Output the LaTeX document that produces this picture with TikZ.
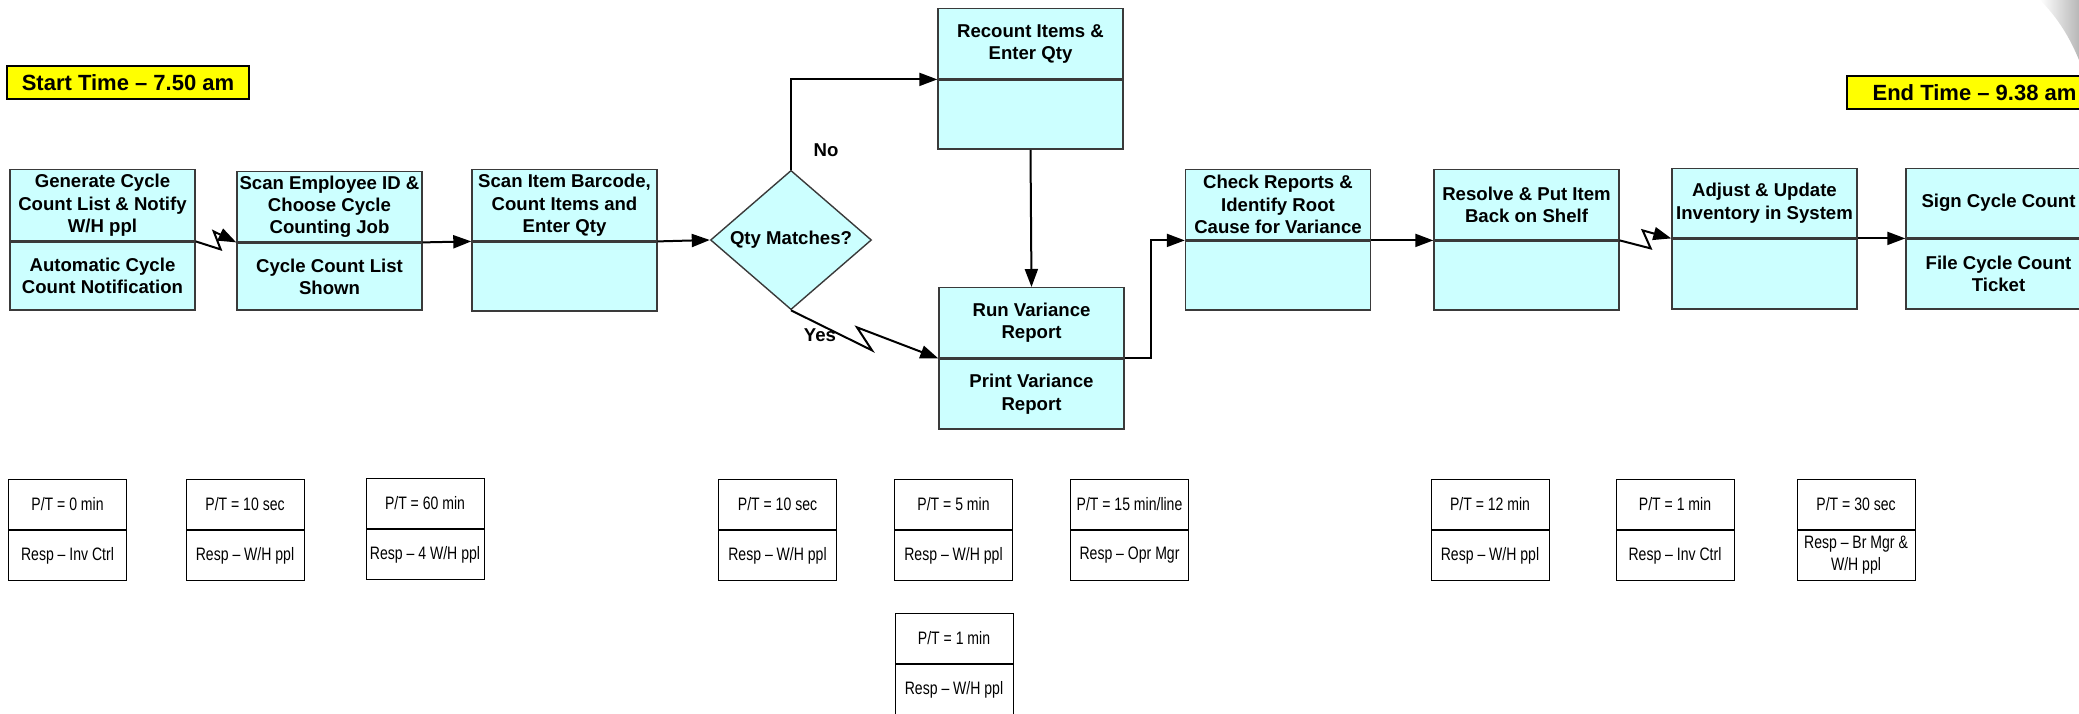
\documentclass[tikz,border=0pt]{standalone}
\usepackage{fontspec}
\setmainfont{Liberation Sans}
\newfontfamily\narrowsans[FakeStretch=0.78]{Liberation Sans}
\usetikzlibrary{arrows.meta,shapes.geometric}

\definecolor{procfill}{HTML}{CCFFFF}
\definecolor{boxedge}{HTML}{3A3A3A}
\definecolor{timefill}{HTML}{FFFF00}

\tikzset{
  half/.style={draw=boxedge, fill=procfill, line width=0.7pt, minimum width=92.5pt,
    inner sep=0pt, align=center, font=\bfseries\fontsize{9.3}{11.2}\selectfont},
  ptcell/.style={draw=black, fill=white, line width=0.5pt, minimum width=59pt,
    minimum height=25pt, inner sep=0pt, align=center,
    font=\narrowsans\fontsize{9}{11}\selectfont},
  timebox/.style={draw=black, fill=timefill, line width=1.3pt, minimum height=16.5pt,
    inner sep=0pt, font=\bfseries\fontsize{11}{13}\selectfont},
  decision/.style={diamond, draw=boxedge, fill=procfill, line width=0.7pt,
    minimum width=80.5pt, minimum height=60pt, inner sep=0pt,
    font=\bfseries\fontsize{9.3}{11.2}\selectfont},
  flow/.style={line width=1pt, -{Triangle[length=9pt,width=6.5pt]}},
  lbl/.style={font=\bfseries\fontsize{9.3}{11.2}\selectfont, inner sep=0pt}
}

% process step: name, x centre, top, divider, bottom, upper text, lower text
\newcommand\procbox[7]{%
  \node[half, anchor=north, minimum height={(#4-#3)*0.5pt}] (#1) at (#2,#3) {#6};
  \node[half, anchor=north, minimum height={(#5-#4)*0.5pt}] (#1-b) at (#1.south) {#7};
}
% time / responsibility card: name, x centre, top, upper text, lower text
\newcommand\ptbox[5]{%
  \node[ptcell, anchor=north] (#1) at (#2,#3) {#4};
  \node[ptcell, anchor=north] (#1-b) at (#1.south) {#5};
}

\begin{document}
\begin{tikzpicture}[x=0.5pt, y=-0.5pt]
  \useasboundingbox (0,0) rectangle (2079,713);
  \clip (0,0) rectangle (2079,713);

  % page corner shadow
  \shade[left color=white, right color=black!28]
    (2040,0) .. controls (2058,18) and (2070,38) .. (2079,60) -- (2079,0) -- cycle;

  % start / end times
  \node[timebox, minimum width=121pt] (start) at (128,82.5) {Start Time – 7.50 am};
  \node[timebox, minimum width=127.5pt] (end) at (1974.5,92.5) {End Time – 9.38 am};

  % process steps
  \procbox{gen}{102.5}{169}{240}{308}{Generate Cycle\\Count List \& Notify\\W/H ppl}{Automatic Cycle\\Count Notification}
  \procbox{scan}{329.5}{171}{241}{308}{Scan Employee ID \&\\Choose Cycle\\Counting Job}{Cycle Count List\\Shown}
  \procbox{item}{564.5}{169}{240}{309}{Scan Item Barcode,\\Count Items and\\Enter Qty}{}
  \node[decision] (qty) at (791,240) {Qty Matches?};
  \procbox{recount}{1030.5}{8}{78}{147}{Recount Items \&\\Enter Qty}{}
  \procbox{runvar}{1031.5}{287}{357}{427}{Run Variance\\Report}{Print Variance\\Report}
  \procbox{check}{1278}{169}{239}{308}{Check Reports \&\\Identify Root\\Cause for Variance}{}
  \procbox{resolve}{1526.5}{169}{239}{308}{Resolve \& Put Item\\Back on Shelf}{}
  \procbox{adjust}{1764.5}{168}{237}{307}{Adjust \& Update\\Inventory in System}{}
  \procbox{sign}{1998.5}{168}{237}{307}{Sign Cycle Count}{File Cycle Count\\Ticket}

  % connectors
  \draw[flow] (gen.south east) -- ++(25,8) -- ++(-7,-18) -- (scan.south west);
  \draw[flow] (scan.south east) -- (item.south west);
  \draw[flow] (item.south east) -- (qty.west);
  \draw[flow] (qty.north) |- (recount.south west);
  \draw[flow] (qty.south) -- ++(81,40) -- ++(-15,-23) -- (runvar.south west);
  \draw[flow] (recount-b.south) -- (runvar.north);
  \draw[flow] (runvar.south east) -- ++(26,0) |- (check.south west);
  \draw[flow] (check.south east) -- (resolve.south west);
  \draw[flow] (resolve.south east) -- ++(31,8) -- ++(-8,-18) -- (adjust.south west);
  \draw[flow] (adjust.south east) -- (sign.south west);

  \node[lbl] (no) at (826,150) {No};
  \node[lbl] (yes) at (820,335) {Yes};

  % processing times and responsibilities
  \ptbox{ptA}{67.5}{479}{P/T = 0 min}{Resp – Inv Ctrl}
  \ptbox{ptB}{245}{479}{P/T = 10 sec}{Resp – W/H ppl}
  \ptbox{ptC}{425}{478}{P/T = 60 min}{Resp – 4 W/H ppl}
  \ptbox{ptD}{777.5}{479}{P/T = 10 sec}{Resp – W/H ppl}
  \ptbox{ptE}{953.5}{479}{P/T = 5 min}{Resp – W/H ppl}
  \ptbox{ptF}{1129.5}{479}{P/T = 15 min/line}{Resp – Opr Mgr}
  \ptbox{ptG}{954}{613}{P/T = 1 min}{Resp – W/H ppl}
  \ptbox{ptH}{1490}{479}{P/T = 12 min}{Resp – W/H ppl}
  \ptbox{ptI}{1675}{479}{P/T = 1 min}{Resp – Inv Ctrl}
  \ptbox{ptJ}{1856}{479}{P/T = 30 sec}{Resp – Br Mgr \&\\W/H ppl}
\end{tikzpicture}
\end{document}
